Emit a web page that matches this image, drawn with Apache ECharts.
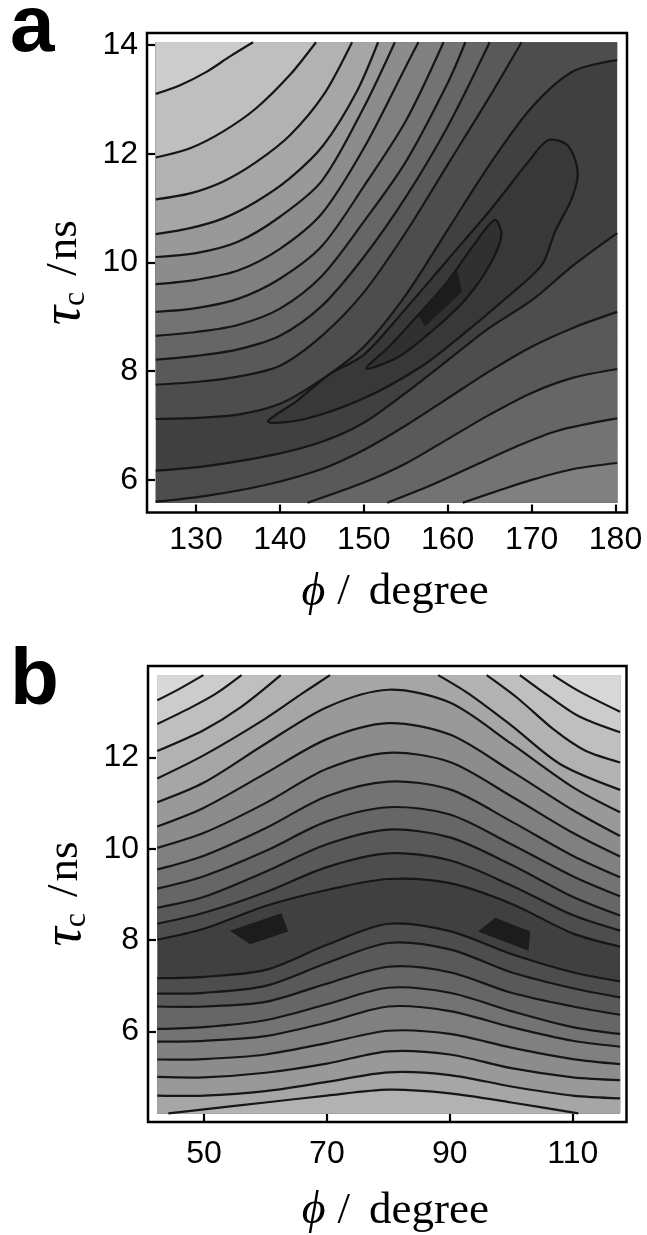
<!DOCTYPE html>
<html>
<head>
<meta charset="utf-8">
<script src="https://cdn.jsdelivr.net/npm/echarts@6.0.0/dist/echarts.min.js"></script>
<style>
  html, body { margin: 0; padding: 0; background: #fff; }
  #chart { width: 647px; height: 1235px; }
</style>
</head>
<body>
<div id="chart"></div>
<script>
// ---- panel a : phi 125..180 deg, tau_c 5.6..14 ns ----
var aPhiSpan = [125.2, 180.2];
var aTauSpan = [5.58, 14.05];
var aPhiTicks = [130, 140, 150, 160, 170, 180];
var aTauTicks = [6, 8, 10, 12, 14];

// contours above the valley, nearest the valley first
var aUpperLines = [
  [[125.2,7.12],[130,7.14],[135,7.2],[140,7.4],[145,7.85],[150,8.45],[155,9.4],[160,10.6],[165,11.8],[170,12.85],[175,13.52],[180.2,13.72]],
  [[125.2,7.75],[130,7.8],[135,7.9],[140,8.1],[145,8.65],[150,9.45],[155,10.55],[160,11.8],[165,13.05],[168.8,14.05]],
  [[125.2,8.21],[130,8.28],[135,8.4],[140,8.65],[145,9.2],[150,10.1],[155,11.2],[160,12.5],[165,14.05]],
  [[125.2,8.65],[130,8.72],[135,8.85],[140,9.15],[145,9.75],[150,10.75],[155,11.85],[160,13.3],[162.1,14.05]],
  [[125.2,9.09],[130,9.16],[135,9.33],[140,9.7],[145,10.3],[150,11.4],[155,12.6],[159.5,14.05]],
  [[125.2,9.60],[130,9.68],[135,9.85],[140,10.25],[145,10.9],[150,12.1],[155,13.6],[156.5,14.05]],
  [[125.2,10.10],[130,10.17],[135,10.38],[140,10.84],[145,11.5],[150,12.85],[153.7,14.05]],
  [[125.2,10.52],[129.3,10.63],[133.25,10.81],[137.2,11.12],[141.2,11.55],[145.2,12.16],[149.15,13.14],[151.7,14.05]],
  [[125.2,11.16],[129.3,11.27],[133.25,11.49],[137.2,11.85],[141.2,12.34],[145.2,13.08],[148.6,14.05]],
  [[125.2,11.93],[129.3,12.10],[133.25,12.41],[137.2,12.84],[141.2,13.45],[144.3,14.05]],
  [[125.2,13.10],[128.1,13.26],[131.3,13.51],[134.05,13.79],[136.8,14.05]]
];
// contours below the valley, nearest the valley first
var aLowerLines = [
  [[125.2,6.17],[131,6.25],[139.2,6.46],[145,6.7],[150,7.05],[155,7.6],[160,8.2],[165,8.8],[170,9.3],[175,9.95],[180.2,10.54]],
  [[125.2,5.6],[131,5.7],[138.4,5.91],[145,6.2],[150,6.55],[155,7.0],[160,7.5],[165,8.0],[170,8.45],[175,8.8],[180.2,9.09]],
  [[143.3,5.58],[150,5.95],[155,6.3],[160,6.75],[165,7.2],[170,7.6],[175,7.88],[180.2,8.04]],
  [[152.8,5.58],[158,5.9],[163,6.25],[168,6.6],[173,6.9],[180.2,7.13]],
  [[161.8,5.58],[166,5.8],[170,6.0],[175,6.2],[180.2,6.31]]
];
// closed contours round the minimum, outermost first
var aLoopLines = [
  [[138.6,7.07],[142,7.45],[146,7.95],[150,8.3],[155,9.15],[160,10.05],[165,10.95],[169.6,11.85],[172,12.25],[174.3,12.15],[175.5,11.67],[174.8,11.18],[172.8,10.57],[171.2,9.95],[167,9.35],[162,8.7],[157,8.1],[150,7.5],[143,7.12]],
  [[150.3,8.05],[153,8.45],[156,8.95],[160,9.65],[163,10.3],[165.6,10.78],[166.4,10.5],[165,9.95],[162,9.3],[158,8.72],[154,8.25]]
];
var aMinPatches = [
  [[156.5,9.03],[157.3,8.82],[161.7,9.46],[161.1,9.86]]
];

// ---- panel b : phi 42..118 deg, tau_c 4.2..13.8 ns ----
var bPhiSpan = [42.4, 117.7];
var bTauSpan = [4.21, 13.8];
var bPhiTicks = [50, 70, 90, 110];
var bTauTicks = [6, 8, 10, 12];
var bColumns = [42.4, 50, 60, 70, 80, 90, 100, 110, 117.7];

// full-width contours above the valley, tau at bColumns, nearest the valley first
var bUpperRows = [
  [8.01, 8.25, 8.75, 9.1, 9.34, 9.25, 8.8, 8.15, 7.86],
  [8.36, 8.6, 9.05, 9.6, 9.90, 9.75, 9.2, 8.55, 8.21],
  [8.71, 8.95, 9.5, 10.1, 10.42, 10.25, 9.65, 8.95, 8.54],
  [9.13, 9.4, 9.95, 10.6, 10.91, 10.75, 10.1, 9.4, 8.96],
  [9.55, 9.85, 10.45, 11.15, 11.47, 11.3, 10.6, 9.85, 9.38],
  [10.02, 10.35, 11.0, 11.75, 12.10, 11.9, 11.15, 10.35, 9.83],
  [10.49, 10.9, 11.65, 12.4, 12.75, 12.5, 11.7, 10.85, 10.28],
  [11.02, 11.45, 12.3, 13.1, 13.48, 13.2, 12.3, 11.35, 10.80]
];
var bTopLeftLines = [
  [[42.4,11.54],[50,12.05],[60,12.85],[66,13.4],[70.5,13.8]],
  [[42.4,12.14],[50,12.6],[56,13.1],[62.5,13.8]],
  [[42.4,12.73],[48,13.1],[52,13.4],[56.1,13.8]],
  [[42.4,13.25],[46,13.5],[49.9,13.8]]
];
var bTopRightLines = [
  [[88.1,13.8],[93,13.4],[100,12.7],[108,11.85],[117.7,11.29]],
  [[96,13.8],[101,13.3],[107,12.6],[112,12.15],[117.7,11.89]],
  [[101.4,13.8],[106,13.35],[111,12.9],[117.7,12.55]],
  [[106.8,13.8],[111,13.45],[117.7,13.0]]
];
// full-width contours below the valley, tau at bColumns
var bLowerRows = [
  [7.17, 7.2, 7.35, 7.9, 8.36, 8.2, 7.7, 7.3, 7.10],
  [6.83, 6.85, 7.0, 7.5, 7.94, 7.8, 7.3, 6.95, 6.75],
  [6.55, 6.55, 6.65, 7.05, 7.42, 7.3, 6.85, 6.55, 6.37],
  [6.06, 6.1, 6.25, 6.6, 6.96, 6.85, 6.45, 6.1, 5.95],
  [5.78, 5.8, 5.9, 6.2, 6.55, 6.45, 6.1, 5.8, 5.67],
  [5.39, 5.4, 5.5, 5.75, 6.02, 5.95, 5.65, 5.4, 5.29],
  [5.01, 5.0, 5.1, 5.3, 5.57, 5.5, 5.2, 5.0, 4.94],
  [4.60, 4.6, 4.7, 4.9, 5.11, 5.05, 4.8, 4.6, 4.54]
];
var bBottomLines = [
  [[44.2,4.21],[50,4.3],[60,4.45],[70,4.6],[80,4.73],[90,4.65],[100,4.45],[110.9,4.21]]
];
var bMinPatches = [
  [[54.2,8.21],[57.5,7.91],[63.7,8.19],[62.6,8.59]],
  [[94.6,8.19],[102.8,7.77],[103.1,8.19],[97.4,8.49]]
];

var SMOOTH = 0.3;

function grayOf(level) {
  if (level === 'min') return '#1c1c1c';
  var g = level >= 0 ? 64 + 12.7 * level : 64 + 8 * level;
  g = Math.round(Math.max(0, Math.min(235, g)));
  return 'rgb(' + g + ',' + g + ',' + g + ')';
}

function rowsToLines(columns, rows) {
  return rows.map(function (row) {
    return row.map(function (t, i) { return [columns[i], t]; });
  });
}

// region beyond a contour, closed along the plot edge ('up' = higher tau side)
function closeSide(line, side, xs, ys) {
  var eps = 0.05;
  var first = line[0], last = line[line.length - 1];
  var yEdge = side === 'up' ? ys[1] : ys[0];
  var pts = [first].concat(line).concat([last]);
  if (Math.abs(last[0] - xs[1]) < eps) { pts.push([xs[1], yEdge], [xs[1], yEdge]); }
  if (Math.abs(first[0] - xs[0]) < eps) { pts.push([xs[0], yEdge], [xs[0], yEdge]); }
  return pts;
}

function buildShapes(xs, ys, upperSets, lowerSets, loops, patches) {
  var shapes = [];
  shapes.push({ kind: 'fill', color: grayOf(0), smooth: 0,
    points: [[xs[0], ys[0]], [xs[1], ys[0]], [xs[1], ys[1]], [xs[0], ys[1]]] });
  var strokes = [];
  upperSets.forEach(function (set) {
    set.lines.forEach(function (ln, i) {
      shapes.push({ kind: 'fill', color: grayOf(set.start + i), smooth: SMOOTH, points: closeSide(ln, 'up', xs, ys) });
      strokes.push(ln);
    });
  });
  lowerSets.forEach(function (set) {
    set.lines.forEach(function (ln, i) {
      shapes.push({ kind: 'fill', color: grayOf(set.start + i), smooth: SMOOTH, points: closeSide(ln, 'down', xs, ys) });
      strokes.push(ln);
    });
  });
  strokes.forEach(function (ln) {
    shapes.push({ kind: 'line', smooth: SMOOTH, points: ln });
  });
  loops.forEach(function (ln, i) {
    shapes.push({ kind: 'loop', color: grayOf(-(i + 1)), smooth: SMOOTH, points: ln });
  });
  patches.forEach(function (ln) {
    shapes.push({ kind: 'fill', color: grayOf('min'), smooth: 0, points: ln });
  });
  return shapes;
}

function shapeRenderer(shapes) {
  return function (params, api) {
    var s = shapes[params.dataIndex];
    var pts = s.points.map(function (p) { return api.coord(p); });
    if (s.kind === 'fill') {
      return { type: 'polygon', shape: { points: pts, smooth: s.smooth },
        style: { fill: s.color, stroke: null } };
    }
    if (s.kind === 'loop') {
      return { type: 'polygon', shape: { points: pts, smooth: s.smooth },
        style: { fill: s.color, stroke: '#161616', lineWidth: 2.2 } };
    }
    return { type: 'polyline', shape: { points: pts, smooth: s.smooth },
      style: { fill: null, stroke: '#161616', lineWidth: 2.2 } };
  };
}

var aShapes = buildShapes(aPhiSpan, aTauSpan,
  [{ start: 1, lines: aUpperLines }],
  [{ start: 1, lines: aLowerLines }],
  aLoopLines, aMinPatches);

var bShapes = buildShapes(bPhiSpan, bTauSpan,
  [{ start: 1, lines: rowsToLines(bColumns, bUpperRows) },
   { start: 9, lines: bTopLeftLines },
   { start: 9, lines: bTopRightLines }],
  [{ start: 1, lines: rowsToLines(bColumns, bLowerRows).concat(bBottomLines) }],
  [], bMinPatches);

var serif = '"Liberation Serif", "DejaVu Serif", serif';
var sans = '"Liberation Sans", Arial, sans-serif';

function phiAxis(idx, min, max, ticks, labelMargin, nameGap) {
  return {
    gridIndex: idx, type: 'value', min: min, max: max,
    axisLine: { show: false }, splitLine: { show: false },
    axisTick: { show: true, inside: true, length: 8, customValues: ticks,
      lineStyle: { color: '#000', width: 2.2 } },
    axisLabel: { customValues: ticks, fontSize: 32, fontFamily: sans, color: '#000', margin: labelMargin },
    name: '{p|\u03d5}{s|/}{r|degree}', nameLocation: 'middle', nameGap: nameGap,
    nameTextStyle: { color: '#000', fontSize: 45, fontFamily: serif,
      rich: { p: { fontSize: 46, fontFamily: serif, fontStyle: 'italic', color: '#000', padding: [0, 0, 0, 16] },
              s: { fontSize: 45, fontFamily: serif, color: '#000', padding: [0, 19, 0, 12] },
              r: { fontSize: 45, fontFamily: serif, color: '#000' } } }
  };
}

function tauAxis(idx, min, max, ticks) {
  return {
    gridIndex: idx, type: 'value', min: min, max: max,
    axisLine: { show: false }, splitLine: { show: false },
    axisTick: { show: true, inside: true, length: 8, customValues: ticks,
      lineStyle: { color: '#000', width: 2.2 } },
    axisLabel: { customValues: ticks, fontSize: 32, fontFamily: sans, color: '#000', margin: 9 },
    name: '{t|\u03c4}{c|c}{s|/}{r|ns}', nameLocation: 'middle', nameGap: 50,
    nameTextStyle: { color: '#000', fontSize: 45, fontFamily: serif,
      rich: { t: { fontSize: 54, fontFamily: serif, fontStyle: 'italic', color: '#000' },
              c: { fontSize: 32, fontFamily: serif, color: '#000', padding: [22, 0, 0, 0] },
              s: { fontSize: 45, fontFamily: serif, color: '#000', padding: [0, 3, 0, 16] },
              r: { fontSize: 45, fontFamily: serif, color: '#000' } } }
  };
}

var chart = echarts.init(document.getElementById('chart'), null, { renderer: 'canvas' });
chart.setOption({
  animation: false,
  backgroundColor: '#fff',
  grid: [
    { left: 147, top: 33, width: 480, height: 479.5, show: true, borderColor: '#000', borderWidth: 2.5, backgroundColor: 'transparent' },
    { left: 148, top: 666, width: 478.5, height: 476, show: true, borderColor: '#000', borderWidth: 2.5, backgroundColor: 'transparent' }
  ],
  xAxis: [
    phiAxis(0, 124.16, 181.37, aPhiTicks, 12, 57),
    phiAxis(1, 40.89, 118.75, bPhiTicks, 16, 66)
  ],
  yAxis: [
    tauAxis(0, 5.40, 14.22, aTauTicks),
    tauAxis(1, 4.023, 14.0, bTauTicks)
  ],
  graphic: [
    { type: 'text', left: 10, top: -11, style: { text: 'a', font: 'bold 80px ' + sans, fill: '#000' } },
    { type: 'text', left: 10, top: 642, style: { text: 'b', font: 'bold 80px ' + sans, fill: '#000' } }
  ],
  series: [
    { type: 'custom', xAxisIndex: 0, yAxisIndex: 0, renderItem: shapeRenderer(aShapes),
      data: aShapes.map(function (s, i) { return [i, i]; }), silent: true },
    { type: 'custom', xAxisIndex: 1, yAxisIndex: 1, renderItem: shapeRenderer(bShapes),
      data: bShapes.map(function (s, i) { return [i, i]; }), silent: true }
  ]
});
</script>
</body>
</html>
